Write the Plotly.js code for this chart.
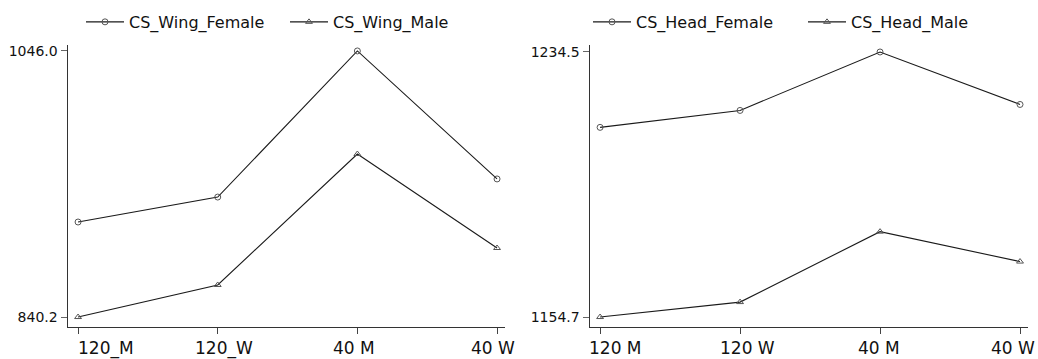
<!DOCTYPE html>
<html>
<head>
<meta charset="utf-8">
<script src="https://cdn.plot.ly/plotly-3.0.1.min.js"></script>
<style>html,body{margin:0;padding:0;background:#fff;}#chart{width:1038px;height:359px;}</style>
</head>
<body>
<div id="chart"></div>
<script>
// Categories / tick labels
const categories = ["120_M", "120_W", "40_M", "40_W"];
const wingLabels = ["120_M", "120_W", "40 M", "40 W"];
const headLabels = ["120 M", "120 W", "40 M", "40 W"];

// Series values
const wingFemale = [913.7, 933.0, 1046.0, 947.0];
const wingMale   = [840.2, 865.0, 966.3, 893.6];
const headFemale = [1211.8, 1216.9, 1234.5, 1218.7];
const headMale   = [1154.7, 1159.2, 1180.4, 1171.4];

// Y tick values (min / max shown)
const wingTicks = [840.2, 1046.0];
const headTicks = [1154.7, 1234.5];

// label horizontal offsets (style)
const wingLabelShift = [28, 6, -3, -4];
const headLabelShift = [15, 7, -1, -7];

const W = 1038;
const lineColor = "#1a1a1a";
const markerColor = "#555";

function trace(name, y, xa, ya, symbol, legend) {
  return {
    type: "scatter", mode: "lines+markers", name: name,
    x: categories, y: y, xaxis: xa, yaxis: ya, legend: legend,
    line: {color: lineColor, width: 1.1},
    marker: {symbol: symbol, size: 6, color: markerColor, line: {width: 1}}
  };
}

const data = [
  trace("CS_Wing_Female", wingFemale, "x", "y", "circle-open", "legend"),
  trace("CS_Wing_Male", wingMale, "x", "y", "triangle-up-open", "legend"),
  trace("CS_Head_Female", headFemale, "x2", "y2", "circle-open", "legend2"),
  trace("CS_Head_Male", headMale, "x2", "y2", "triangle-up-open", "legend2")
];

const axFont = {family: "DejaVu Sans", size: 14, color: "#111"};

function xaxis(domain, anchor) {
  return {
    domain: domain, anchor: anchor, type: "category",
    categoryorder: "array", categoryarray: categories,
    range: [-0.072, 3.057],
    showgrid: false, zeroline: false,
    showline: true, linecolor: "#333", linewidth: 1,
    ticks: "outside", ticklen: 6, tickcolor: "#444", tickwidth: 1,
    showticklabels: false
  };
}
function yaxis(anchor, range, tv) {
  return {
    anchor: anchor, range: range,
    showgrid: false, zeroline: false,
    showline: true, linecolor: "#333", linewidth: 1.5,
    ticks: "outside", ticklen: 6, tickcolor: "#666", tickwidth: 1,
    tickvals: tv, ticktext: tv.map(v => v.toFixed(1)),
    tickfont: axFont
  };
}

const annotations = [];
function addLabels(labels, shifts, xref) {
  labels.forEach((t, i) => {
    annotations.push({
      text: t, x: categories[i], xref: xref, y: 0, yref: "paper",
      yanchor: "top", xanchor: "center", yshift: -9, xshift: shifts[i],
      showarrow: false, font: {family: "DejaVu Sans", size: 17, color: "#111"}
    });
  });
}
addLabels(wingLabels, wingLabelShift, "x");
addLabels(headLabels, headLabelShift, "x2");

const legendFont = {family: "DejaVu Sans", size: 16, color: "#111"};

const layout = {
  width: 1038, height: 359,
  margin: {l: 0, r: 0, t: 45, b: 32, autoexpand: false},
  paper_bgcolor: "#fff", plot_bgcolor: "#fff",
  showlegend: true,
  xaxis: xaxis([68 / W, 505 / W], "y"),
  yaxis: yaxis("x", [832.5, 1050.6], wingTicks),
  xaxis2: xaxis([590 / W, 1028 / W], "y2"),
  yaxis2: yaxis("x2", [1151.7, 1236.6], headTicks),
  legend: {
    orientation: "h", x: 81 / W, xanchor: "left", y: 1.142, yanchor: "top",
    font: legendFont, entrywidth: 151, entrywidthmode: "pixels",
    itemwidth: 38, bgcolor: "rgba(0,0,0,0)", tracegroupgap: 0
  },
  legend2: {
    orientation: "h", x: 588 / W, xanchor: "left", y: 1.142, yanchor: "top",
    font: legendFont, entrywidth: 162, entrywidthmode: "pixels",
    itemwidth: 38, bgcolor: "rgba(0,0,0,0)", tracegroupgap: 0
  },
  annotations: annotations
};

Plotly.newPlot("chart", data, layout, {displayModeBar: false, staticPlot: true});
</script>
</body>
</html>
